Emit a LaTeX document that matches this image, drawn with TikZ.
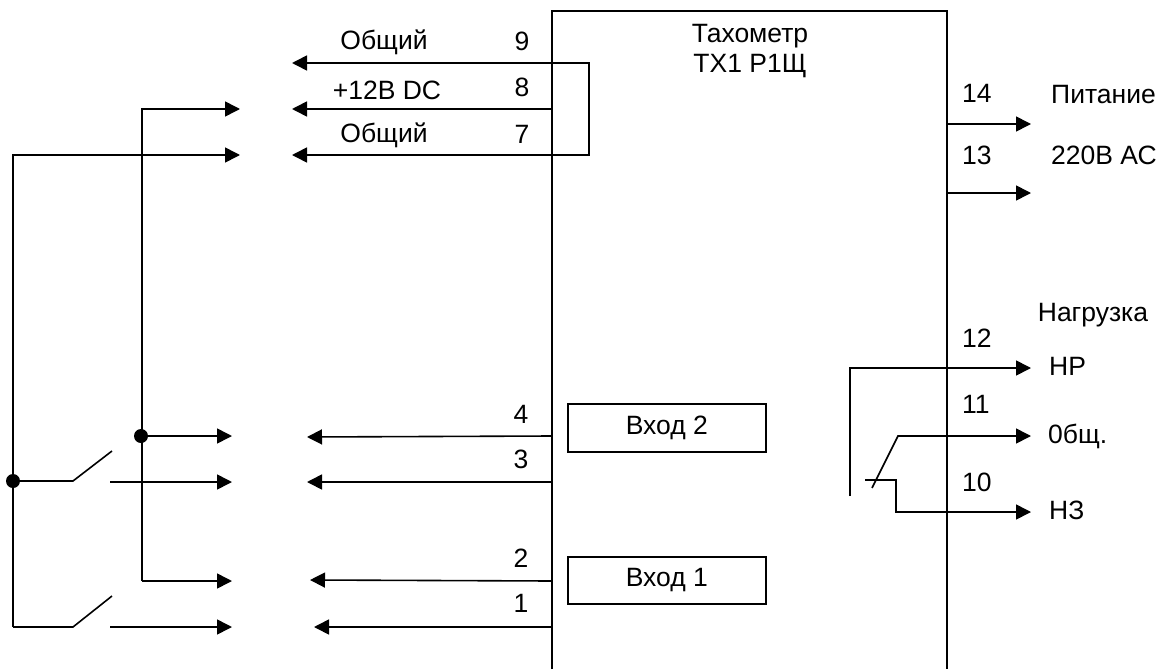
\documentclass[tikz,border=0pt]{standalone}
\usepackage{fontspec}
\setmainfont{Liberation Sans}
\usetikzlibrary{arrows.meta}
\tikzset{
  x=1pt,y=-1pt,
  wire/.style={line width=1.6pt,line join=miter},
  arrowwire/.style={wire,-{Triangle[length=15pt,width=15pt]}},
  lbl/.style={font=\fontsize{26.5}{30}\selectfont,inner sep=0pt,text=black},
  dotnode/.style={circle,fill=black,inner sep=0pt,minimum size=14pt},
  inbox/.style={draw,line width=1.6pt,minimum width=198pt,anchor=north west,inner sep=0pt,font=\fontsize{26.5}{30}\selectfont}
}
\begin{document}
\begin{tikzpicture}
\useasboundingbox (0,0) rectangle (1169,669);
% main housing
\coordinate (hbl) at (552,669);
\coordinate (htl) at (552,11);
\coordinate (htr) at (947,11);
\coordinate (hbr) at (947,669);
\draw[wire] (hbl) -- (htl) -- (htr) -- (hbr);
\node[lbl] (title1) at (750,36) {Тахометр};
\node[lbl] (title2) at (750,66) {ТХ1 Р1Щ};
% input boxes
\node[inbox,minimum height=48pt] (in2) at (567,403) {Вход 2};
\node[inbox,minimum height=47pt] (in1) at (567,556) {\raisebox{-1.5pt}{Вход 1}};
% left terminals
\coordinate (t9) at (552,63);
\coordinate (t8) at (552,109);
\coordinate (t7) at (552,155);
\coordinate (t4) at (552,436);
\coordinate (t3) at (552,482);
\coordinate (t2) at (552,581);
\coordinate (t1) at (552,627);
\coordinate (a9) at (292,63);
\coordinate (a8) at (292,109);
\coordinate (a7) at (292,155);
\coordinate (a4) at (307,437);
\coordinate (a3) at (307,482);
\coordinate (a2) at (310,580);
\coordinate (a1) at (314,627);
\draw[arrowwire] (t9) -- (a9);
\draw[arrowwire] (t8) -- (a8);
\draw[arrowwire] (t7) -- (a7);
\draw[arrowwire] (t4) -- (a4);
\draw[arrowwire] (t3) -- (a3);
\draw[arrowwire] (t2) -- (a2);
\draw[arrowwire] (t1) -- (a1);
\coordinate (br1) at (589,63);
\coordinate (br2) at (589,155);
\draw[wire] (t9) -- (br1) -- (br2) -- (t7);
% outer wiring
\coordinate (b8) at (240,109);
\coordinate (b7) at (240,155);
\coordinate (b4) at (232,436);
\coordinate (b3) at (232,482);
\coordinate (b2) at (232,581);
\coordinate (b1) at (232,627);
\coordinate (v8t) at (142,109);
\coordinate (v8b) at (142,581);
\coordinate (v7t) at (13,155);
\coordinate (v7b) at (13,627);
\node[dotnode] (d1) at (141,436) {};
\node[dotnode] (d2) at (13,481) {};
\draw[arrowwire] (v8b) -- (v8t) -- (b8);
\draw[arrowwire] (v8b) -- (b2);
\draw[arrowwire] (d1) -- (b4);
\draw[arrowwire] (v7b) -- (v7t) -- (b7);
% switches
\coordinate (s1a) at (73,481);
\coordinate (s1b) at (112,451);
\coordinate (s1c) at (110,482);
\coordinate (s2a) at (73,627);
\coordinate (s2b) at (112,596);
\coordinate (s2c) at (110,627);
\draw[wire] (d2) -- (s1a) -- (s1b);
\draw[arrowwire] (s1c) -- (b3);
\draw[wire] (v7b) -- (s2a) -- (s2b);
\draw[arrowwire] (s2c) -- (b1);
% left labels
\node[lbl] (lo1) at (384,42) {Общий};
\node[lbl] (lp) at (387,90) {+12В DC};
\node[lbl] (lo2) at (384,135) {Общий};
\node[lbl] (n9) at (522,41) {9};
\node[lbl] (n8) at (522,87) {8};
\node[lbl] (n7) at (522,134) {7};
\node[lbl] (n4) at (521,414) {4};
\node[lbl] (n3) at (521,459) {3};
\node[lbl] (n2) at (521,558) {2};
\node[lbl] (n1) at (521,603) {1};
% power
\coordinate (r14) at (947,124);
\coordinate (r13) at (947,193);
\coordinate (o14) at (1031,124);
\coordinate (o13) at (1031,193);
\draw[arrowwire] (r14) -- (o14);
\draw[arrowwire] (r13) -- (o13);
\node[lbl,anchor=west] (n14) at (962,93) {14};
\node[lbl,anchor=west] (n13) at (962,155) {13};
\node[lbl,anchor=west] (pw1) at (1051,95) {Питание};
\node[lbl,anchor=west] (pw2) at (1051,155) {220В АС};
% relay
\coordinate (c12a) at (850,496);
\coordinate (c12b) at (850,368);
\coordinate (o12) at (1031,368);
\coordinate (c11a) at (872,488);
\coordinate (c11b) at (898,436);
\coordinate (o11) at (1031,436);
\coordinate (c10a) at (865,480);
\coordinate (c10b) at (896,480);
\coordinate (c10c) at (896,512);
\coordinate (o10) at (1031,512);
\draw[arrowwire] (c12a) -- (c12b) -- (o12);
\draw[arrowwire] (c11a) -- (c11b) -- (o11);
\draw[arrowwire] (c10a) -- (c10b) -- (c10c) -- (o10);
\node[lbl] (load) at (1093,315) {Нагрузка};
\node[lbl,anchor=west] (n12) at (962,338) {12};
\node[lbl,anchor=west] (n11) at (962,404) {11};
\node[lbl,anchor=west] (n10) at (962,482) {10};
\node[lbl,anchor=west] (nr) at (1049,366) {НР};
\node[lbl,anchor=west] (com) at (1048,436) {0бщ.};
\node[lbl,anchor=west] (nz) at (1049,510) {НЗ};
\end{tikzpicture}
\end{document}
